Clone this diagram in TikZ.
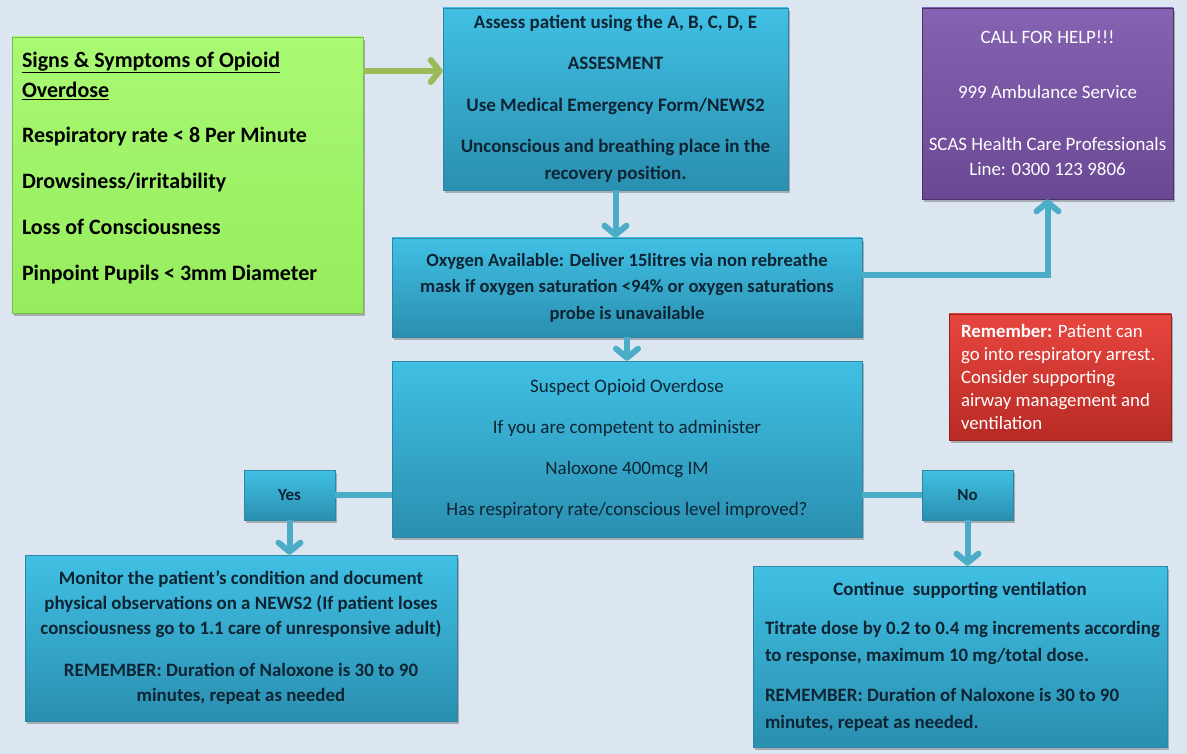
\documentclass[tikz,border=0pt]{standalone}
\usepackage{fontspec}
\setmainfont{Carlito}
\usetikzlibrary{positioning,shadows,arrows.meta}
\definecolor{bgblue}{HTML}{DCE6F0}
\definecolor{boxtop}{HTML}{40C0E4}
\definecolor{boxbot}{HTML}{2A8FB0}
\definecolor{boxedge}{HTML}{2C86A4}
\definecolor{inkblue}{HTML}{0E2433}
\definecolor{linkblue}{HTML}{4BADC8}
\definecolor{linkgreen}{HTML}{9BBB59}
\definecolor{greentop}{HTML}{A8FA72}
\definecolor{greenbot}{HTML}{96EC5E}
\definecolor{purpletop}{HTML}{8663B2}
\definecolor{purplebot}{HTML}{6A4894}
\definecolor{redtop}{HTML}{E8463F}
\definecolor{redbot}{HTML}{B82A24}
\newcommand{\fsz}[2]{\fontsize{#1}{#2}\selectfont}
\begin{document}
\begin{tikzpicture}[x=1pt, y=-1pt, >={Straight Barb[round, length=9pt, width=22pt]}]
	\tikzset{
		box/.style={draw=boxedge, line width=0.6pt, top color=boxtop, bottom color=boxbot, text=inkblue, align=center, inner sep=0pt, drop shadow={shadow xshift=2pt, shadow yshift=-3pt, opacity=0.45, fill=black!60}, font=\bfseries\fsz{19}{27}},
		greenbox/.style={box, draw=greenbot!80!black, top color=greentop, bottom color=greenbot, text=black, align=flush left, font=\bfseries\fsz{22}{30}},
		purplebox/.style={box, draw=purplebot!70!black, top color=purpletop, bottom color=purplebot, text=white, font=\fsz{18.9}{25}},
		redbox/.style={box, draw=redbot!80!black, top color=redtop, bottom color=redbot, text=white, align=flush left, font=\fsz{18.8}{23}},
		link/.style={draw=linkblue, line width=6pt},
		linkarrow/.style={link, ->}
	}
	\useasboundingbox (0,0) rectangle (1187,754);
	\fill[bgblue] (0,0) rectangle (1187,754);
	% boxes
	\node[greenbox, minimum width=351pt, minimum height=276pt, text width=331pt] (signs) at (187.5,175)
		{\underline{Signs \& Symptoms of Opioid}\\ \underline{Overdose}\\[15pt]
		Respiratory rate < 8 Per Minute\\[16pt] Drowsiness/irritability\\[16pt]
		Loss of Consciousness\\[16pt] Pinpoint Pupils < 3mm Diameter\par\vspace*{14pt}};
	\node[box, minimum width=345pt, minimum height=182pt] (assess) at (615.5,99)
		{Assess patient using the A, B, C, D, E\\[14pt] ASSESMENT\\[15pt]
		Use Medical Emergency Form/NEWS2\\[14pt] Unconscious and breathing place in the\\ recovery position.};
	\node[purplebox, minimum width=251pt, minimum height=191pt] (help) at (1047.5,103.5)
		{CALL FOR HELP!!!\\[30pt] 999 Ambulance Service\\[27pt]
		SCAS Health Care Professionals\\ Line: 0300 123 9806};
	\node[box, font=\bfseries\fsz{18.6}{26.5}, minimum width=470pt, minimum height=99pt] (oxygen) at (627,287.5)
		{Oxygen Available: Deliver 15litres via non rebreathe\\
		mask if oxygen saturation <94\% or oxygen saturations\\ probe is unavailable};
	\node[redbox, minimum width=222pt, minimum height=126pt, text width=198pt] (remember) at (1060,377)
		{\textbf{Remember:} Patient can\\ go into respiratory arrest.\\ Consider supporting\\
		airway management and\\ ventilation};
	\node[box, font=\fsz{19}{41}, minimum width=470pt, minimum height=176pt] (suspect) at (627,449)
		{Suspect Opioid Overdose\\ If you are competent to administer\\
		Naloxone 400mcg IM\\ Has respiratory rate/conscious level improved?};
	\node[box, font=\bfseries\fsz{17}{20}, minimum width=91pt, minimum height=50pt] (yes) at (289.5,495) {Yes};
	\node[box, font=\bfseries\fsz{17}{20}, minimum width=91pt, minimum height=50pt] (no) at (967.5,495) {No};
	\node[box, font=\bfseries\fsz{18.9}{25}, minimum width=432pt, minimum height=166pt] (monitor) at (241,638)
		{Monitor the patient’s condition and document\\
		physical observations on a NEWS2 (If patient loses\\
		consciousness go to 1.1 care of unresponsive adult)\\[17pt]
		REMEMBER: Duration of Naloxone is 30 to 90\\ minutes, repeat as needed};
	\node[box, font=\bfseries\fsz{18.9}{26.5}, align=flush left, minimum width=414pt, minimum height=181pt, text width=404pt] (cont) at (960,656.5)
		{\makebox[\linewidth]{Continue\ \ supporting ventilation}\\[13pt]
		\hspace*{7pt}Titrate dose by 0.2 to 0.4 mg increments according\\ \hspace*{7pt}to response, maximum 10 mg/total dose.\\[14pt]
		\hspace*{7pt}REMEMBER: Duration of Naloxone is 30 to 90\\ \hspace*{7pt}minutes, repeat as needed.};
	% connectors
	\coordinate (gy) at (0,71);
	\draw[link, draw=linkgreen, ->] (signs.east |- gy) -- (assess.west |- gy);
	\draw[linkarrow] (assess.south) -- (assess.south |- oxygen.north);
	\draw[linkarrow] (oxygen.east) ++(0,-12) -| (help.south);
	\draw[linkarrow] (oxygen.south) -- (oxygen.south |- suspect.north);
	\draw[link] (suspect.west |- yes) -- (yes.east);
	\draw[link] (suspect.east |- no) -- (no.west);
	\draw[linkarrow] (yes.south) -- (yes.south |- monitor.north);
	\draw[linkarrow] (no.south) -- (no.south |- cont.north);
\end{tikzpicture}
\end{document}
